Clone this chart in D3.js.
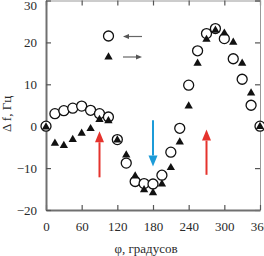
<!DOCTYPE html>
<html>
<head>
<meta charset="utf-8">
<script src="https://cdn.jsdelivr.net/npm/d3@7"></script>
<style>
  html, body { margin: 0; padding: 0; background: #fff; }
  svg { display: block; }
</style>
</head>
<body>
<svg id="chart" width="264" height="256"></svg>
<script>
// frequency shift vs rotation angle, two sweep directions
const phi = [0, 15, 30, 45, 60, 75, 90, 105, 120, 135, 150, 165, 180,
  195, 210, 225, 240, 255, 270, 285, 300, 315, 330, 345, 360];
// circles: sweep "←"
const backward = [0, 3.0, 3.7, 4.3, 4.8, 3.8, 3.0, 2.2, -3.2, -8.8, -13.2, -13.7, -13.8,
  -11.7, -6.2, -0.5, 9.8, 18.0, 22.1, 23.3, 20.9, 16.1, 11.2, 5.0, 0];
// triangles: sweep "→"
const forward = [-0.2, -4.1, -4.6, -3.2, -1.7, -0.6, 1.6, 1.3, -3.3, -6.9, -11.9, -15.2, -15.9,
  -13.8, -9.9, -3.8, 4.8, 15.0, 20.7, 22.9, 22.2, 20.0, 15.0, 7.9, -0.1];
const xTicks = [0, 60, 120, 180, 240, 300, 360];
const yTicks = [-20, -10, 0, 10, 20, 30];
// marker arrows (angle, tail value, tip value)
const arrowPhi = [90, 180, 270];
const arrowFrom = [-12.2, 1.4, -11.6];
const arrowTo = [-1.2, -9.6, -0.8];

const w = 264, h = 256, m = { t: 0.5, r: 4, b: 46, l: 46 };
const svg = d3.select("#chart");
const font = "\"Times New Roman\", serif";

const x = d3.scaleLinear().domain([0, 360]).range([m.l, w - m.r]);
const y = d3.scaleLinear().domain([-20, 30]).range([h - m.b, m.t]);

const styleAxis = (g, col, sw) => {
  g.attr("font-family", font);
  g.select(".domain").attr("stroke", col).attr("stroke-width", sw);
  g.selectAll(".tick line").attr("stroke", "#555").attr("stroke-width", 1.2);
  g.selectAll("text").attr("fill", "#2a2a2a").attr("font-size", 13);
};

// top & right frame (no labels)
svg.append("g").attr("transform", `translate(0,${m.t})`)
  .call(d3.axisTop(x).tickValues(xTicks).tickSize(-5).tickFormat(""))
  .call(g => styleAxis(g, "#999", 1));
svg.append("g").attr("transform", `translate(${w - m.r},0)`)
  .call(d3.axisRight(y).tickValues(yTicks).tickSize(-5).tickFormat(""))
  .call(g => styleAxis(g, "#999", 1));

// bottom & left
svg.append("g").attr("transform", `translate(0,${h - m.b})`)
  .call(d3.axisBottom(x).tickValues(xTicks).tickSize(-5).tickPadding(12).tickSizeOuter(0))
  .call(g => styleAxis(g, "#707070", 2));
svg.append("g").attr("transform", `translate(${m.l},0)`)
  .call(d3.axisLeft(y).tickValues(yTicks).tickSize(-5).tickPadding(9).tickSizeOuter(0))
  .call(g => styleAxis(g, "#707070", 2))
  .call(g => g.selectAll(".tick text").filter(d => d === 30).attr("dy", "0.7em"));

// axis titles
svg.append("text")
  .attr("x", 146).attr("y", 253)
  .attr("text-anchor", "middle").attr("fill", "#2a2a2a")
  .attr("font-family", font).attr("font-size", 13)
  .text("φ, градусов");
svg.append("text")
  .attr("transform", "translate(11,114) rotate(-90)")
  .attr("text-anchor", "middle").attr("fill", "#2a2a2a")
  .attr("font-family", font).attr("font-size", 13)
  .text("Δ f, Гц");

// marker arrows
const arrowCol = ["#e5332d", "#1c9bd8", "#e5332d"];
arrowPhi.forEach((p, i) => {
  const ax = x(p), y0 = y(arrowFrom[i]), y1 = y(arrowTo[i]);
  const dir = Math.sign(y1 - y0);
  const hl = 11, hw = 4.5;
  svg.append("line")
    .attr("x1", ax).attr("x2", ax).attr("y1", y0).attr("y2", y1 - dir * hl)
    .attr("stroke", arrowCol[i]).attr("stroke-width", 2);
  svg.append("path")
    .attr("d", `M${ax},${y1}L${ax - hw},${y1 - dir * hl}L${ax + hw},${y1 - dir * hl}Z`)
    .attr("fill", arrowCol[i]);
});

const tri = d3.symbol(d3.symbolTriangle, 30);

// circles then triangles on top
svg.selectAll("circle.bw").data(phi).join("circle")
  .attr("class", "bw")
  .attr("cx", d => x(d)).attr("cy", (d, i) => y(backward[i]))
  .attr("r", 5).attr("fill", "#fff").attr("stroke", "#111").attr("stroke-width", 1.3);

svg.selectAll("path.fw").data(phi).join("path")
  .attr("class", "fw")
  .attr("transform", (d, i) => `translate(${x(d)},${y(forward[i])})`)
  .attr("d", tri).attr("fill", "#111");

// legend
const lg = svg.append("g").attr("class", "legend");
lg.append("circle").attr("cx", 108.5).attr("cy", 36).attr("r", 5)
  .attr("fill", "#fff").attr("stroke", "#111").attr("stroke-width", 1.3);
lg.append("path").attr("transform", "translate(108.5,57)").attr("d", tri).attr("fill", "#111");

const legArrow = (yy, left) => {
  const x0 = 123, x1 = 142, hl = 6, hw = 2.5;
  const tip = left ? x0 : x1, back = left ? x0 + hl : x1 - hl;
  lg.append("line").attr("x1", left ? back : x0).attr("x2", left ? x1 : back)
    .attr("y1", yy).attr("y2", yy).attr("stroke", "#666").attr("stroke-width", 1.2);
  lg.append("path").attr("d", `M${tip},${yy}L${back},${yy - hw}L${back},${yy + hw}Z`)
    .attr("fill", "#555");
};
legArrow(36.5, true);
legArrow(57, false);
</script>
</body>
</html>
